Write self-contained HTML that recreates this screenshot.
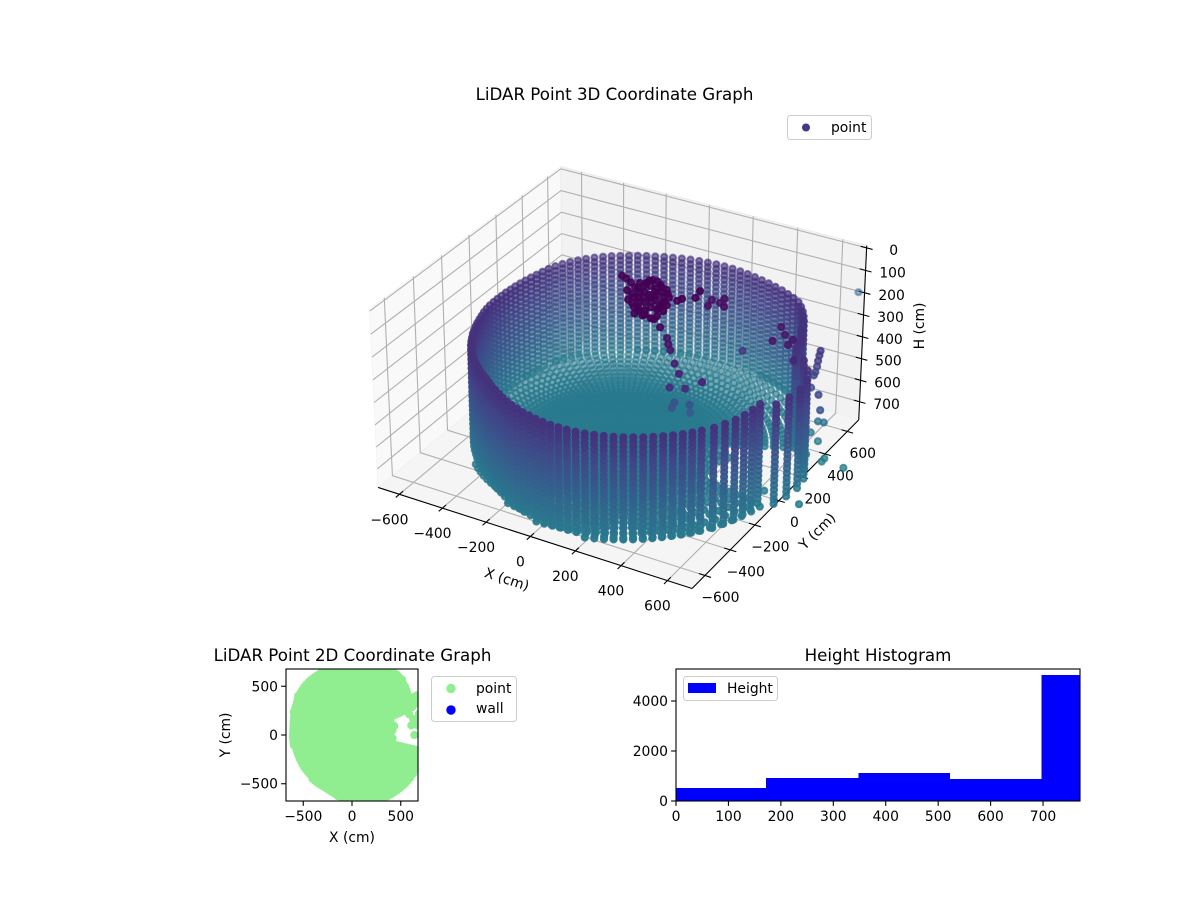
<!DOCTYPE html>
<html lang="en">
<head>
<meta charset="utf-8">
<title>LiDAR Point Graphs</title>
<style>
html,body{margin:0;padding:0;background:#fff;width:1200px;height:900px;overflow:hidden}
svg{display:block;font-family:"DejaVu Sans","Liberation Sans",sans-serif;fill:#000}
text{font-size:13.89px}
.title{font-size:16.67px;text-anchor:middle}
.mid{text-anchor:middle}
.end{text-anchor:end}
</style>
</head>
<body>
<svg id="chart" xmlns="http://www.w3.org/2000/svg" width="1200" height="900" viewBox="0 0 1200 900">
  <defs>
    <clipPath id="clip2d"><rect x="286" y="669" width="132" height="132"/></clipPath>
  </defs>
  <rect x="0" y="0" width="1200" height="900" fill="#fff"/>
  <text class="title" x="614.5" y="100">LiDAR Point 3D Coordinate Graph</text>
  <g id="g3d"></g>
  <text class="mid" transform="translate(507,579) rotate(18)" dy="5">X (cm)</text>
  <text class="mid" transform="translate(817,531) rotate(-45)" dy="5">Y (cm)</text>
  <text class="mid" transform="translate(919,326) rotate(-90)" dy="5">H (cm)</text>
  <g>
    <rect x="787.5" y="115.5" width="84" height="24" rx="3" fill="#fff" fill-opacity="0.8" stroke="#ccc"/>
    <circle cx="806" cy="127.5" r="4" fill="#453781"/>
    <text x="831" y="132">point</text>
  </g>

  <text class="title" x="352.5" y="661">LiDAR Point 2D Coordinate Graph</text>
  <g id="g2d"></g>
  <text class="mid" x="352" y="842">X (cm)</text>
  <text class="mid" transform="translate(230,735) rotate(-90)">Y (cm)</text>
  <g>
    <rect x="431.5" y="676.5" width="85" height="45" rx="3" fill="#fff" fill-opacity="0.8" stroke="#ccc"/>
    <circle cx="451" cy="688.5" r="4.7" fill="#90ee90"/>
    <text x="476" y="693">point</text>
    <circle cx="451" cy="710" r="4.7" fill="#0000ff"/>
    <text x="476" y="713">wall</text>
  </g>

  <text class="title" x="878" y="661">Height Histogram</text>
  <g id="ghist"></g>
  <g>
    <rect x="683.5" y="676.5" width="94" height="24" rx="3" fill="#fff" fill-opacity="0.8" stroke="#ccc"/>
    <rect x="688" y="683" width="28" height="10" fill="#0000ff"/>
    <text x="727" y="693">Height</text>
  </g>
</svg>
<script>
/* ---------- data ---------- */
const wallAzimuths = [
24.9,27.8,30.7,33.6,36.5,39.4,42.3,45.2,48.1,51,
53.9,56.8,59.7,62.6,65.5,68.4,71.3,74.2,77.1,80,
82.9,85.8,88.7,91.6,94.5,97.4,100.3,103.2,106.1,109,
111.9,114.8,117.7,120.6,123.5,126.4,129.3,132.2,135.1,138,
140.9,143.8,146.7,149.6,152.5,155.4,158.3,161.2,164.1,167,
169.9,172.8,175.7,178.6,181.5,184.4,187.3,190.2,193.1,196,
198.9,201.8,204.7,207.6,210.5,213.4,216.3,219.2,222.1,225,
227.9,230.8,233.7,236.6,239.5,242.4,245.3,248.2,251.1,254,
256.9,259.8,262.7,265.6,268.5,271.4,274.3,277.2,280.1,283,
285.9,288.8,291.7,294.6,297.5,300.4,303.3,306.2,309.1,312,
314.9,317.8,320.7,323.6,327.5,331.4,335.3,339.2,343.1,347];
const wallRadii = [
680,690,700,705,710,724,736,746,756,765,
772,770,767,764,760,757,754,752,750,749,
747,745,742,738,735,731,727,723,720,716,
714,712,710,708,707,705,702,698,693,688,
682,675,666,656,646,638,631,625,619,614,
610,606,604,602,600,598,595,592,590,589,
588,588,588,588,589,590,590,590,590,591,
592,592,594,595,597,602,608,614,620,628,
636,644,652,660,667,675,683,690,696,702,
708,712,716,720,723,726,728,730,732,734,
736,738,739,740,742,738,735,728,720,712];
const floorOvershoot = [12];
const notchAzimuths = [350,355.5,1,6.5,12,17.5];
const notchRadii = [760,768,775,770,750,720];
const notchFloorLimits = [420,420,410,420,470,420];
const wallHeights = [272,293,314,335,356,377,398,419,440,461,482,503,524,545,566,587,608,629,650,671,692,713];
const floorRadii = [12,26,40,54,68,82,96,110,124,138,152,166,180,195,210,225,240,255,270,286,302,318,335,352,372,394,418,444,472,502,534,568,604,642,682,724,766];
const floorHeights = [722];
const strayX = [-41,-16,16,34,50,83,72,70,101,138,185,206,209,128,162,122,124,157,190,134,119,85,184,210,152,65,62,98,142,95,142,181,127,174,159,206,101,140,104,173,209,203,165,79,125,69,49,252,243,293,282,294,304,333,334,362,423,608,587,628,672,674,707,262,211,274,301,304,343,378,356,411,484,273,262,321,312,687,684,680,677,672,667,656,743,758,689,665,642,624,683,620,659,737,736,832,802,640,370,185,224,236,151,238,75,227];
const strayY = [72,60,42,-20,16,-10,47,91,100,67,31,-29,-73,-11,-54,-78,-122,-139,-156,20,-34,-54,3,-90,3,-35,17,2,-72,55,-26,-94,47,-35,37,-44,-50,-118,-102,-127,-96,9,59,100,81,67,55,25,2,57,114,188,139,183,220,164,208,98,212,164,144,100,83,-165,-122,-131,-170,-159,-195,-224,-256,-234,-235,-87,-47,-32,-9,361,358,356,355,352,349,352,240,230,411,407,392,360,376,327,323,305,331,306,-19,0,1370,-164,-169,-143,-167,-98,-83,-50];
const strayH = [30,30,30,30,30,30,30,30,30,30,30,30,30,30,30,30,30,30,30,30,30,30,30,30,30,30,30,30,30,30,30,30,30,30,30,30,30,30,30,30,30,30,30,30,30,30,30,30,30,30,30,100,100,100,100,100,300,150,150,150,150,150,200,60,60,120,120,150,180,200,250,250,200,450,450,450,500,300,320,345,370,395,410,470,420,480,650,650,700,700,720,760,760,760,760,760,760,760,600,30,30,30,30,30,30,30];

const xTicks3d = [-600,-400,-200,0,200,400,600];
const xTickLabels3d = ["\u2212600","\u2212400","\u2212200","0","200","400","600"];
const yTicks3d = [-600,-400,-200,0,200,400,600];
const yTickLabels3d = ["\u2212600","\u2212400","\u2212200","0","200","400","600"];
const hTicks3d = [0,100,200,300,400,500,600,700];
const hTickLabels3d = ["0","100","200","300","400","500","600","700"];
const xLimits3d = [-700,705];
const yLimits3d = [-700,705];
const hLimits3d = [785,-10];

const ticks2d = [-500,0,500];
const tickLabels2d = ["\u2212500","0","500"];
const limits2d = [-677,677];

const histEdges = [0,172,347.7,523,697,770.5];
const histCounts = [520,920,1120,880,5040];
const histXTicks = [0,100,200,300,400,500,600,700];
const histYTicks = [0,2000,4000];
const histXLimits = [0,770.5];
const histYLimits = [0,5280];

const viridisStops = ["#440154","#482475","#414487","#355f8d","#2a788e","#21918c"];

/* ---------- helpers ---------- */
const NS = "http://www.w3.org/2000/svg";
function mk(tag, attrs, parent){
  const n = document.createElementNS(NS, tag);
  for (const k in attrs) n.setAttribute(k, attrs[k]);
  parent.appendChild(n);
  return n;
}
function rgbOf(hex){return [1,3,5].map(i=>parseInt(hex.substr(i,2),16));}
function viridis(t){
  const p = Math.max(0,Math.min(0.4999,t))*10;
  const i = Math.floor(p), f = p-i;
  const a = rgbOf(viridisStops[i]), b = rgbOf(viridisStops[i+1]);
  return "rgb("+a.map((c,j)=>Math.round(c+(b[j]-c)*f)).join(",")+")";
}
function heightColor(H){return viridis((H-30)/1700);}

/* ---------- 3D projection (elev 30, azim -60, inverted height axis) ---------- */
const boxA = 0.5953, boxH = 0.339, viewDist = 10, viewScale = 3004, viewX = 622.9, viewY = 366.3;
const cam = {u:[0.866025,0.5,0], v:[-0.25,0.433013,0.866025], w:[0.433013,-0.75,0.5]};
function project(x,y,H){
  const px = (x-xLimits3d[0])/(xLimits3d[1]-xLimits3d[0])*2*boxA-boxA;
  const py = (y-yLimits3d[0])/(yLimits3d[1]-yLimits3d[0])*2*boxA-boxA;
  const pz = (H-hLimits3d[0])/(hLimits3d[1]-hLimits3d[0])*2*boxH-boxH;
  const d = viewDist-(cam.w[0]*px+cam.w[1]*py+cam.w[2]*pz);
  return {
    x: viewX+viewScale*(cam.u[0]*px+cam.u[1]*py)/d,
    y: viewY-viewScale*(cam.v[0]*px+cam.v[1]*py+cam.v[2]*pz)/d,
    d: d
  };
}
const xLo=xLimits3d[0], xHi=xLimits3d[1], yLo=yLimits3d[0], yHi=yLimits3d[1], hBot=hLimits3d[0], hTop=hLimits3d[1];
function polyPts(list){return list.map(p=>{const q=project(p[0],p[1],p[2]);return q.x.toFixed(1)+","+q.y.toFixed(1);}).join(" ");}

/* ---------- build the point cloud ---------- */
const cloudX = [], cloudY = [], cloudH = [];
function addColumn(az, wallR, floorLimit){
  const c = Math.cos(az*Math.PI/180), s = Math.sin(az*Math.PI/180);
  wallHeights.forEach(H=>{
    cloudX.push(wallR*c); cloudY.push(wallR*s); cloudH.push(H);
  });
  floorRadii.forEach(r=>{
    if (r<=floorLimit) floorHeights.forEach(H=>{
      cloudX.push(r*c); cloudY.push(r*s); cloudH.push(H);
    });
  });
}
wallAzimuths.forEach((az,i)=>addColumn(az,wallRadii[i],wallRadii[i]+floorOvershoot[0]));
notchAzimuths.forEach((az,i)=>addColumn(az,notchRadii[i],notchFloorLimits[i]));
strayX.forEach((x,i)=>{cloudX.push(x);cloudY.push(strayY[i]);cloudH.push(strayH[i]);});

/* ---------- 3D panes, grid, axes ---------- */
const g3d = document.getElementById("g3d");
const paneLeft = mk("polygon",{points:polyPts([[xLo,yLo,hBot],[xLo,yHi,hBot],[xLo,yHi,hTop],[xLo,yLo,hTop]]),fill:"#f9f9f9",stroke:"#f4f4f4"},g3d);


const paneBack = mk("polygon",{points:polyPts([[xLo,yHi,hBot],[xHi,yHi,hBot],[xHi,yHi,hTop],[xLo,yHi,hTop]]),fill:"#f2f2f2",stroke:"#ebebeb"},g3d);


const paneFloor = mk("polygon",{points:polyPts([[xLo,yLo,hBot],[xHi,yLo,hBot],[xHi,yHi,hBot],[xLo,yHi,hBot]]),fill:"#f5f5f5",stroke:"#f0f0f0"},g3d);



function grid3d(points, name){
  const line = mk("polyline",{points:polyPts(points),fill:"none",stroke:"#b0b0b0","stroke-width":1.1},g3d);
  
  
}
xTicks3d.forEach(t=>grid3d([[t,yLo,hBot],[t,yHi,hBot],[t,yHi,hTop]],'x-gridline'));
yTicks3d.forEach(t=>grid3d([[xLo,t,hBot],[xHi,t,hBot]],'y-gridline-floor'));
yTicks3d.forEach(t=>grid3d([[xLo,t,hBot],[xLo,t,hTop]],'y-gridline-wall'));
hTicks3d.forEach(t=>grid3d([[xLo,yLo,t],[xLo,yHi,t],[xHi,yHi,t]],'h-gridline'));

function axisLine3d(a,b,name){
  const A=project(a[0],a[1],a[2]),B=project(b[0],b[1],b[2]);
  const l = mk("line",{x1:A.x,y1:A.y,x2:B.x,y2:B.y,stroke:"#000","stroke-width":1.1},g3d);
  
  
}
axisLine3d([xLo,yLo,hBot],[xHi,yLo,hBot],'x-axis-line');
axisLine3d([xHi,yLo,hBot],[xHi,yHi,hBot],'y-axis-line');
axisLine3d([xHi,yHi,hBot],[xHi,yHi,hTop],'h-axis-line');

const tickSpan = 26;
function tickLabel3d(str,x,y,name){
  const t = mk("text",{x:x,y:y+5,"text-anchor":"middle"},g3d);
  t.textContent = str;
  
  
}
xTicks3d.forEach((t,i)=>{
  axisLine3d([t,yLo-tickSpan,hBot],[t,yLo+tickSpan,hBot],'x-tick');
  const p = project(t,yLo,hBot);
  tickLabel3d(xTickLabels3d[i],p.x-10,p.y+25,'x-tick-label');
});
yTicks3d.forEach((t,i)=>{
  axisLine3d([xHi+tickSpan,t,hBot],[xHi-tickSpan,t,hBot],'y-tick');
  const p = project(xHi,t,hBot);
  tickLabel3d(yTickLabels3d[i],p.x+15.5,p.y+21.5,'y-tick-label');
});
hTicks3d.forEach((t,i)=>{
  axisLine3d([xHi+tickSpan,yHi,t],[xHi-tickSpan,yHi,t],'h-tick');
  const p = project(xHi,yHi,t);
  tickLabel3d(hTickLabels3d[i],p.x+27,p.y+2,'h-tick-label');
});

/* ---------- 3D scatter, far to near with depth shading ---------- */
const projected = cloudX.map((x,i)=>{
  const p = project(x,cloudY[i],cloudH[i]);
  p.h = cloudH[i];
  return p;
});
const depthMin = Math.min.apply(null,projected.map(p=>p.d));
const depthMax = Math.max.apply(null,projected.map(p=>p.d));
projected.sort((a,b)=>b.d-a.d);
const scatter3d = mk("g",{"stroke-width":2},g3d);


projected.forEach(p=>{
  const alpha = 1-0.5*(p.d-depthMin)/(depthMax-depthMin);
  const col = heightColor(p.h);
  const c = mk("circle",{cx:p.x.toFixed(1),cy:p.y.toFixed(1),r:3.1,fill:col,stroke:col,"fill-opacity":alpha.toFixed(2),"stroke-opacity":alpha.toFixed(2)},scatter3d);
  
  
});

/* ---------- 2D scatter ---------- */
const g2d = document.getElementById("g2d");
const box2d = {l:286,r:418,t:669,b:801};
function x2d(v){return box2d.l+(v-limits2d[0])/(limits2d[1]-limits2d[0])*(box2d.r-box2d.l);}
function y2d(v){return box2d.b-(v-limits2d[0])/(limits2d[1]-limits2d[0])*(box2d.b-box2d.t);}
const markerR2d = 4.1;
let path2d = "";
cloudX.forEach((x,i)=>{
  const cx = x2d(x), cy = y2d(cloudY[i]);
  path2d += "M"+(cx-markerR2d).toFixed(1)+" "+cy.toFixed(1)+"a"+markerR2d+" "+markerR2d+" 0 1 0 "+(2*markerR2d)+" 0a"+markerR2d+" "+markerR2d+" 0 1 0 "+(-2*markerR2d)+" 0z";
});
const series2d = mk("path",{d:path2d,fill:"#90ee90","fill-rule":"nonzero","clip-path":"url(#clip2d)"},g2d);



function frame(box,parent,name){
  const f = mk("rect",{x:box.l,y:box.t,width:box.r-box.l,height:box.b-box.t,fill:"none",stroke:"#000","stroke-width":1.1},parent);
  
  
}
frame(box2d,g2d,'frame-2d');
ticks2d.forEach((t,i)=>{
  const px = x2d(t);
  const xt = mk("line",{x1:px,x2:px,y1:box2d.b,y2:box2d.b+4.9,stroke:"#000","stroke-width":1.1},g2d);
  
  
  const xl = mk("text",{x:px,y:box2d.b+20,"text-anchor":"middle"},g2d);
  xl.textContent = tickLabels2d[i];
  
  
  const py = y2d(t);
  const yt = mk("line",{x1:box2d.l-4.9,x2:box2d.l,y1:py,y2:py,stroke:"#000","stroke-width":1.1},g2d);
  
  
  const yl = mk("text",{x:box2d.l-8,y:py+5,"text-anchor":"end"},g2d);
  yl.textContent = tickLabels2d[i];
  
  
});

/* ---------- histogram ---------- */
const ghist = document.getElementById("ghist");
const boxH2 = {l:676,r:1080,t:669,b:801};
function xHist(v){return boxH2.l+(v-histXLimits[0])/(histXLimits[1]-histXLimits[0])*(boxH2.r-boxH2.l);}
function yHist(v){return boxH2.b-(v-histYLimits[0])/(histYLimits[1]-histYLimits[0])*(boxH2.b-boxH2.t);}
histCounts.forEach((n,i)=>{
  const b = mk("rect",{x:xHist(histEdges[i]),y:yHist(n),width:xHist(histEdges[i+1])-xHist(histEdges[i]),height:yHist(0)-yHist(n),fill:"#0000ff","shape-rendering":"crispEdges"},ghist);
  
  
});
frame(boxH2,ghist,'frame-histogram');
histXTicks.forEach(t=>{
  const px = xHist(t);
  const xt = mk("line",{x1:px,x2:px,y1:boxH2.b,y2:boxH2.b+4.9,stroke:"#000","stroke-width":1.1},ghist);
  
  
  const xl = mk("text",{x:px,y:boxH2.b+20,"text-anchor":"middle"},ghist);
  xl.textContent = String(t);
  
  
});
histYTicks.forEach(t=>{
  const py = yHist(t);
  const yt = mk("line",{x1:boxH2.l-4.9,x2:boxH2.l,y1:py,y2:py,stroke:"#000","stroke-width":1.1},ghist);
  
  
  const yl = mk("text",{x:boxH2.l-8,y:py+5,"text-anchor":"end"},ghist);
  yl.textContent = String(t);
  
  
});
</script>
</body>
</html>
